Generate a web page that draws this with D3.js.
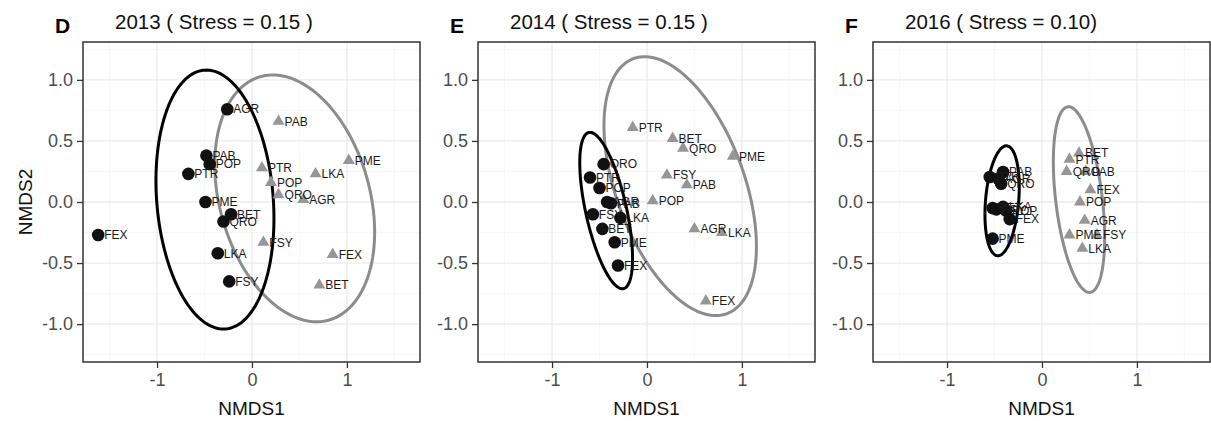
<!DOCTYPE html>
<html><head><meta charset="utf-8">
<script src="https://cdn.jsdelivr.net/npm/d3@7"></script>
<style>body{margin:0;background:#fff;} svg{display:block;font-family:"Liberation Sans",Arial,sans-serif;}</style>
</head><body>
<svg id="chart" width="1211" height="421"></svg>
<script>
// ---- data ----
const species = ["AGR","BET","FEX","FSY","LKA","PAB","PME","POP","PTR","QRO"];
const panelLetters = ["D","E","F"];
const panelTitles = ["2013 ( Stress = 0.15 )","2014 ( Stress = 0.15 )","2016 ( Stress = 0.10)"];
const xTicks = [-1, 0, 1];
const yTicks = [-1.0, -0.5, 0.0, 0.5, 1.0];
const xMinor = [-1.5, -0.5, 0.5, 1.5];
const yMinor = [-1.25, -0.75, -0.25, 0.25, 0.75, 1.25];

// circles (group 1) and triangles (group 2), values in species order
const x2013Circle = [-0.26, -0.22, -1.62, -0.24, -0.36, -0.48, -0.49, -0.445, -0.67, -0.30];
const y2013Circle = [0.76, -0.10, -0.27, -0.65, -0.42, 0.38, 0.00, 0.31, 0.23, -0.16];
const x2013Tri = [0.54, 0.71, 0.85, 0.12, 0.67, 0.28, 1.02, 0.20, 0.105, 0.28];
const y2013Tri = [0.02, -0.68, -0.43, -0.33, 0.23, 0.66, 0.34, 0.16, 0.28, 0.06];

const x2014Circle = [-0.42, -0.47, -0.305, -0.57, -0.28, -0.38, -0.34, -0.50, -0.60, -0.456];
const y2014Circle = [0.00, -0.22, -0.52, -0.10, -0.13, -0.01, -0.33, 0.115, 0.20, 0.31];
const x2014Tri = [0.50, 0.27, 0.62, 0.21, 0.79, 0.42, 0.905, 0.06, -0.15, 0.38];
const y2014Tri = [-0.22, 0.52, -0.81, 0.22, -0.25, 0.14, 0.375, 0.01, 0.61, 0.44];

const x2016Circle = [-0.46, -0.52, -0.34, -0.48, -0.41, -0.41, -0.52, -0.38, -0.55, -0.43];
const y2016Circle = [0.19, -0.05, -0.14, -0.06, -0.04, 0.245, -0.30, -0.07, 0.205, 0.15];
const x2016Tri = [0.45, 0.39, 0.51, 0.58, 0.425, 0.46, 0.29, 0.40, 0.29, 0.26];
const y2016Tri = [-0.15, 0.40, 0.10, -0.27, -0.38, 0.25, -0.27, 0.00, 0.35, 0.25];

// ellipses: [centerX, centerY, halfWidthAtCenter, topShiftX, halfHeight]
const ell2013Circle = [-0.39, 0.02, 0.615, -0.09, 1.06];
const ell2013Tri = [0.45, 0.03, 0.81, -0.23, 1.01];
const ell2014Circle = [-0.43, -0.07, 0.22, -0.17, 0.64];
const ell2014Tri = [0.35, 0.13, 0.71, -0.375, 1.06];
const ell2016Circle = [-0.42, 0.01, 0.175, 0.045, 0.45];
const ell2016Tri = [0.39, 0.02, 0.247, -0.11, 0.76];

const xDomain = [-1.78, 1.77];
const yDomain = [-1.31, 1.31];

// ---- layout ----
const panelLefts = [83, 478, 873];
const panelW = 337, panelTop = 42, panelH = 320;
const circleData = [[x2013Circle,y2013Circle],[x2014Circle,y2014Circle],[x2016Circle,y2016Circle]];
const triData = [[x2013Tri,y2013Tri],[x2014Tri,y2014Tri],[x2016Tri,y2016Tri]];
const ellCircle = [ell2013Circle, ell2014Circle, ell2016Circle];
const ellTri = [ell2013Tri, ell2014Tri, ell2016Tri];

const svg = d3.select("#chart");
const greyEll = "#8c8c8c", greyTri = "#969696";

panelLefts.forEach((left, i) => {
  const x = d3.scaleLinear().domain(xDomain).range([0, panelW]);
  const y = d3.scaleLinear().domain(yDomain).range([panelH, 0]);
  const g = svg.append("g").attr("transform", `translate(${left},${panelTop})`);
  const clipId = "clip" + i;
  g.append("clipPath").attr("id", clipId).append("rect").attr("width", panelW).attr("height", panelH);

  // grid
  const grid = g.append("g");
  xMinor.forEach(v => grid.append("line").attr("x1", x(v)).attr("x2", x(v)).attr("y1", 0).attr("y2", panelH).attr("stroke", "#f3f3f3").attr("stroke-width", 0.7));
  yMinor.forEach(v => grid.append("line").attr("y1", y(v)).attr("y2", y(v)).attr("x1", 0).attr("x2", panelW).attr("stroke", "#f3f3f3").attr("stroke-width", 0.7));
  xTicks.forEach(v => grid.append("line").attr("x1", x(v)).attr("x2", x(v)).attr("y1", 0).attr("y2", panelH).attr("stroke", "#ebebeb").attr("stroke-width", 1.3));
  yTicks.forEach(v => grid.append("line").attr("y1", y(v)).attr("y2", y(v)).attr("x1", 0).attr("x2", panelW).attr("stroke", "#ebebeb").attr("stroke-width", 1.3));

  const plot = g.append("g").attr("clip-path", `url(#${clipId})`);
  const ellLine = d3.line().x(d => x(d[0])).y(d => y(d[1]));
  function ellPts(e) {
    const pts = [];
    for (let k = 0; k <= 200; k++) {
      const t = 2 * Math.PI * k / 200;
      pts.push([e[0] + e[2] * Math.cos(t) + e[3] * Math.sin(t), e[1] + e[4] * Math.sin(t)]);
    }
    return pts;
  }
  plot.append("path").attr("d", ellLine(ellPts(ellTri[i]))).attr("fill", "none").attr("stroke", greyEll).attr("stroke-width", 3);
  plot.append("path").attr("d", ellLine(ellPts(ellCircle[i]))).attr("fill", "none").attr("stroke", "#000").attr("stroke-width", 3);

  const [cx, cy] = circleData[i];
  const [tx, ty] = triData[i];
  const tri = d3.symbol().type(d3.symbolTriangle).size(62);
  species.forEach((s, k) => {
    plot.append("path").attr("d", tri()).attr("transform", `translate(${x(tx[k])},${y(ty[k])})`).attr("fill", greyTri);
  });
  species.forEach((s, k) => {
    plot.append("circle").attr("cx", x(cx[k])).attr("cy", y(cy[k])).attr("r", 6.3).attr("fill", "#111");
  });
  species.forEach((s, k) => {
    plot.append("text").attr("x", x(tx[k]) + 6).attr("y", y(ty[k])).attr("dy", "0.36em").attr("font-size", 12).attr("fill", "#1a1a1a").text(s);
    plot.append("text").attr("x", x(cx[k]) + 6).attr("y", y(cy[k])).attr("dy", "0.36em").attr("font-size", 12).attr("fill", "#1a1a1a").text(s);
  });

  // border
  g.append("rect").attr("width", panelW).attr("height", panelH).attr("fill", "none").attr("stroke", "#333").attr("stroke-width", 1.5);

  // axes
  const xAxis = g.append("g").attr("transform", `translate(0,${panelH})`)
    .call(d3.axisBottom(x).tickValues(xTicks).tickFormat(d3.format("d")).tickSize(6).tickPadding(5));
  const yAxis = g.append("g").call(d3.axisLeft(y).tickValues(yTicks).tickFormat(d3.format(".1f")).tickSize(6).tickPadding(4));
  [xAxis, yAxis].forEach(a => {
    a.select(".domain").remove();
    a.selectAll(".tick line").attr("stroke", "#333").attr("stroke-width", 1.3);
    a.selectAll(".tick text").attr("fill", "#4d4d4d").attr("font-size", 18).attr("font-family", "Liberation Sans, Arial, sans-serif");
  });
  xAxis.selectAll(".tick text").text(d => d < 0 ? "-" + Math.abs(d) : String(d));
  yAxis.selectAll(".tick text").text(d => (d < 0 ? "-" : "") + Math.abs(d).toFixed(1));

  // axis titles
  g.append("text").attr("x", panelW / 2).attr("y", 373).attr("text-anchor", "middle").attr("font-size", 19).attr("fill", "#111").text("NMDS1");
  if (i === 0) {
    g.append("text").attr("transform", `translate(${32 - left},${panelH / 2}) rotate(-90)`).attr("text-anchor", "middle").attr("font-size", 19).attr("fill", "#111").text("NMDS2");
  }
  // title & letter
  svg.append("text").attr("x", left + 32).attr("y", 29).attr("font-size", 20.5).attr("fill", "#111").text(panelTitles[i]);
  svg.append("text").attr("x", left - 28).attr("y", 33).attr("font-size", 21).attr("font-weight", "bold").attr("fill", "#000").text(panelLetters[i]);
});
</script>
</body></html>
